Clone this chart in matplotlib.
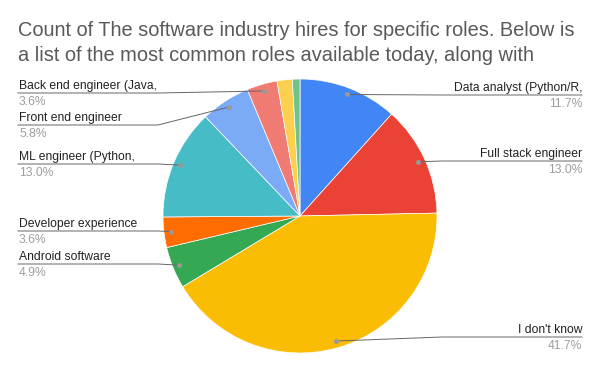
import matplotlib.pyplot as plt
from matplotlib import font_manager
import numpy as np

# pick regular (non-narrow) Liberation Sans
reg = [f.fname for f in font_manager.fontManager.ttflist
       if f.name == 'Liberation Sans' and f.style == 'normal'
       and f.weight in (400, 'normal') and 'Narrow' not in f.fname]
if reg:
    font_manager.fontManager.addfont(reg[0])
    fp = font_manager.FontProperties(fname=reg[0])
else:
    fp = font_manager.FontProperties(family='Roboto')

# slice data (clockwise from 12 o'clock)
roles = ['Data analyst (Python/R,', 'Full stack engineer', "I don't know",
         'Android software', 'Developer experience', 'ML engineer (Python,',
         'Front end engineer', 'Back end engineer (Java,', 'Other A', 'Other B']
counts = [26, 29, 93, 11, 8, 29, 13, 8, 4, 2]
colors = ['#4285F4', '#EA4335', '#FBBC04', '#34A853', '#FF6D01',
          '#46BDC6', '#7BAAF7', '#F07B72', '#FCD04F', '#71C287']
shown = [True] * 8 + [False, False]
title_lines = ['Count of The software industry hires for specific roles. Below is',
               'a list of the most common roles available today, along with']

W, H = 600, 371
fig = plt.figure(figsize=(6, 3.71), dpi=100)
ax = fig.add_axes([0, 0, 1, 1])
renderer = fig.canvas.get_renderer()

cx, cy, R = 300, H - 216, 137
wedges, _ = ax.pie(counts, colors=colors, startangle=90, counterclock=False,
                   center=(cx, cy), radius=R, frame=True,
                   wedgeprops=dict(edgecolor='white', linewidth=0.5))
ax.set_xlim(0, W)
ax.set_ylim(0, H)
ax.set_aspect('equal')
ax.axis('off')


def fitted(txt, target_px, size):
    # scale a text's font so it spans target_px pixels
    t = ax.text(0, 0, txt, fontproperties=fp, fontsize=size)
    w = t.get_window_extent(renderer).width
    t.remove()
    return size * target_px / w


lab_size = fitted('Full stack engineer', 103, 9)
title_size = fitted(title_lines[0], 554, 13)

total = sum(counts)
# label layout: side and y of underline (pixels from top)
label_y = [95, 161, 337, 264, 231, 164, 125, 93]
label_side = ['r', 'r', 'r', 'l', 'l', 'l', 'l', 'l']

for i, w in enumerate(wedges):
    if not shown[i]:
        continue
    ang = np.deg2rad((w.theta1 + w.theta2) / 2)
    dx, dy = cx + 0.95 * R * np.cos(ang), cy + 0.95 * R * np.sin(ang)
    yl = H - label_y[i]
    if label_side[i] == 'r':
        xs = [dx, 442, 582]
        tx, ha = 582, 'right'
    else:
        xs = [dx, 158, 18]
        tx, ha = 19, 'left'
    ax.plot(xs, [dy, yl, yl], color='#666666', lw=0.7, zorder=3)
    ax.plot(dx, dy, 'o', ms=2.5, color='#999999', zorder=4)
    ax.text(tx, yl + 4, roles[i], ha=ha, va='baseline', fontproperties=fp,
            fontsize=lab_size, color='#222222')
    pct = 100 * counts[i] / total
    ax.text(tx, yl - 12, f'{pct:.1f}%', ha=ha, va='baseline', fontproperties=fp,
            fontsize=lab_size, color='#9e9e9e')

for k, line in enumerate(title_lines):
    ax.text(18, H - 36 - 25 * k, line, ha='left', va='baseline', fontproperties=fp,
            fontsize=title_size, color='#595959')

fig.savefig('out.png', dpi=100)
